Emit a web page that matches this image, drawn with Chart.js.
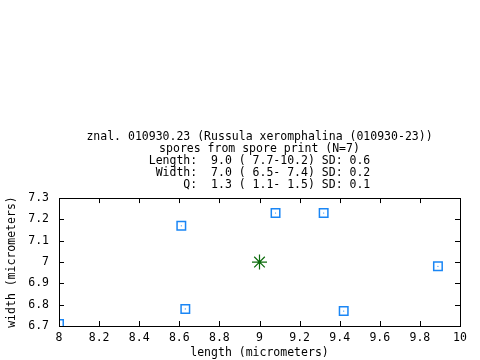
<!DOCTYPE html>
<html>
<head>
<meta charset="utf-8">
<script src="https://cdn.jsdelivr.net/npm/chart.js@4/dist/chart.umd.min.js"></script>
<style>
  html, body { margin: 0; padding: 0; background: #fff; }
  #wrap { width: 480px; height: 360px; }
</style>
</head>
<body>
<div id="wrap"><canvas id="myChart" width="480" height="360"></canvas></div>
<script>
var titleLines = [
    "znal. 010930.23 (Russula xeromphalina (010930-23))",
    "spores from spore print (N=7)",
    "Length:  9.0 ( 7.7-10.2) SD: 0.6",
    " Width:  7.0 ( 6.5- 7.4) SD: 0.2",
    "     Q:  1.3 ( 1.1- 1.5) SD: 0.1"
];
var sporeLength = [8.61, 8.63, 8.0, 9.08, 9.32, 9.42, 9.89];
var sporeWidth  = [7.17, 6.78, 6.71, 7.23, 7.23, 6.77, 6.98];
var meanLength = [9.0];
var meanWidth  = [7.0];

var xMin = 8, xMax = 10, xStep = 0.2;
var yMin = 6.7, yMax = 7.3, yStep = 0.1;

var font = "'DejaVu Sans Mono', 'Liberation Mono', monospace";
var fsize = 11.5;

var spores = sporeLength.map(function (v, i) { return {x: v, y: sporeWidth[i]}; });
var mean = meanLength.map(function (v, i) { return {x: v, y: meanWidth[i]}; });

function shortNum(value) {
    return String(Number(value.toFixed(1)));
}

// frame plus inward ticks on all four sides
var frame = {
    id: 'frame',
    afterDraw: function (chart) {
        var c = chart.ctx, a = chart.chartArea;
        var sx = chart.scales.x, sy = chart.scales.y;
        c.save();
        c.strokeStyle = '#000';
        c.lineWidth = 1;
        c.strokeRect(Math.round(a.left) + 0.5, Math.round(a.top) + 0.5,
            Math.round(a.right - a.left), Math.round(a.bottom - a.top));
        c.beginPath();
        sx.ticks.forEach(function (t) {
            var px = Math.round(sx.getPixelForValue(t.value)) + 0.5;
            c.moveTo(px, a.bottom); c.lineTo(px, a.bottom - 5);
            c.moveTo(px, a.top); c.lineTo(px, a.top + 5);
        });
        sy.ticks.forEach(function (t) {
            var py = Math.round(sy.getPixelForValue(t.value)) + 0.5;
            c.moveTo(a.left, py); c.lineTo(a.left + 5, py);
            c.moveTo(a.right, py); c.lineTo(a.right - 5, py);
        });
        c.stroke();
        c.restore();
    }
};

var ctx = document.getElementById('myChart');

var myChart = new Chart(ctx, {
    type: 'scatter',
    data: {
        datasets: [{
            label: 'spores',
            data: spores,
            pointStyle: 'rect',
            pointRadius: 6,
            pointHoverRadius: 6,
            borderColor: '#1a86f5',
            backgroundColor: 'rgba(0,0,0,0)',
            borderWidth: 1.5
        }, {
            label: 'spore centre',
            data: spores,
            pointStyle: 'circle',
            pointRadius: 0.6,
            borderWidth: 0,
            backgroundColor: '#1a86f5'
        }, {
            label: 'mean',
            data: mean,
            pointStyle: 'star',
            pointRadius: 7.5,
            pointHoverRadius: 7.5,
            borderColor: '#0b6b0b',
            borderWidth: 1.2
        }, {
            label: 'mean centre',
            data: mean,
            pointStyle: 'circle',
            pointRadius: 1.7,
            borderWidth: 0,
            backgroundColor: '#0b6b0b'
        }]
    },
    options: {
        responsive: false,
        animation: false,
        events: [],
        layout: {
            padding: {left: 0, right: 20, top: 0, bottom: 0}
        },
        scales: {
            x: {
                type: 'linear',
                min: xMin,
                max: xMax,
                ticks: {
                    stepSize: xStep,
                    padding: 5,
                    color: '#000',
                    font: {family: font, size: fsize},
                    callback: shortNum
                },
                grid: {display: false, drawTicks: false},
                border: {display: false},
                title: {
                    display: true,
                    text: 'length (micrometers)',
                    color: '#000',
                    font: {family: font, size: fsize},
                    padding: {top: 3, bottom: 0}
                },
                afterFit: function (scale) { scale.height = 34; }
            },
            y: {
                type: 'linear',
                min: yMin,
                max: yMax,
                ticks: {
                    stepSize: yStep,
                    padding: 10,
                    color: '#000',
                    font: {family: font, size: fsize},
                    callback: shortNum
                },
                grid: {display: false, drawTicks: false},
                border: {display: false},
                title: {
                    display: true,
                    text: 'width (micrometers)',
                    color: '#000',
                    font: {family: font, size: fsize},
                    padding: {top: 5, bottom: 0}
                },
                afterFit: function (scale) { scale.width = 59; }
            }
        },
        plugins: {
            legend: {display: false},
            tooltip: {enabled: false},
            title: {
                display: true,
                text: titleLines,
                color: '#000',
                fullSize: false,
                font: {family: font, size: fsize, weight: 'normal', lineHeight: 1.045},
                padding: {top: 131, bottom: 7}
            }
        }
    },
    plugins: [frame]
});
</script>
</body>
</html>
